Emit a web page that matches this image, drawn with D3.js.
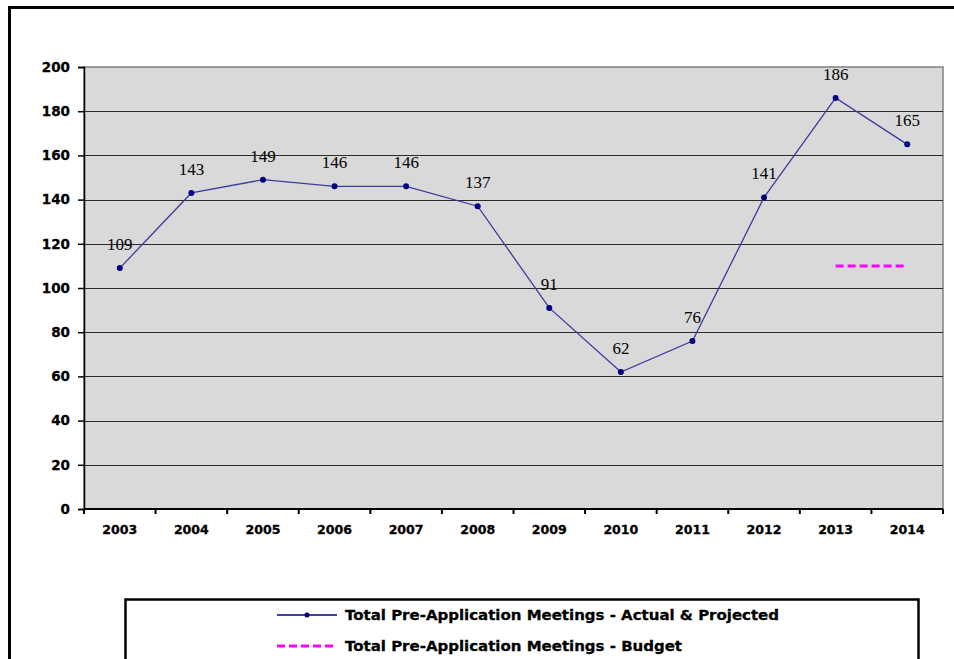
<!DOCTYPE html>
<html>
<head>
<meta charset="utf-8">
<script src="https://cdn.jsdelivr.net/npm/d3@7"></script>
<style>
  html, body { margin: 0; padding: 0; background: #fff; }
  svg { display: block; }
</style>
</head>
<body>
<svg id="chart" width="954" height="659"></svg>
<script>
// Years on the category axis
const years = ["2003", "2004", "2005", "2006", "2007", "2008", "2009", "2010", "2011", "2012", "2013", "2014"];
// Total pre-application meetings, actual & projected
const actual = [109, 143, 149, 146, 146, 137, 91, 62, 76, 141, 186, 165];
// Budget figure, only set for the last two years
const budgetYears = ["2013", "2014"];
const budget = [110, 110];
// Value axis ticks
const yTicks = [0, 20, 40, 60, 80, 100, 120, 140, 160, 180, 200];
const seriesNames = [
  "Total Pre-Application Meetings - Actual & Projected",
  "Total Pre-Application Meetings - Budget"
];

const svg = d3.select("#chart");
const plot = { left: 84, top: 67, right: 943, bottom: 509 };

const x = d3.scaleBand().domain(years).range([plot.left, plot.right]).padding(0);
const y = d3.scaleLinear().domain([0, 200]).range([plot.bottom, plot.top]);
const cx = d => x(d) + x.bandwidth() / 2;

const axisFont = "'DejaVu Sans', Verdana, sans-serif";

// Outer frame
svg.append("rect")
  .attr("x", 9.5).attr("y", 7.5)
  .attr("width", 980).attr("height", 720)
  .attr("fill", "none").attr("stroke", "#000").attr("stroke-width", 3);

// Plot background
svg.append("rect")
  .attr("x", plot.left).attr("y", plot.top)
  .attr("width", plot.right - plot.left).attr("height", plot.bottom - plot.top)
  .attr("fill", "#d9d9d9")
  .attr("stroke", "#808080").attr("stroke-width", 1.5);

// Horizontal gridlines
svg.append("g")
  .selectAll("line")
  .data(yTicks.filter(t => t > 0 && t < 200))
  .join("line")
  .attr("x1", plot.left).attr("x2", plot.right)
  .attr("y1", d => Math.round(y(d)) + 0.5).attr("y2", d => Math.round(y(d)) + 0.5)
  .attr("stroke", "#2a2a2a").attr("stroke-width", 1.1);

// Y axis
const yAxis = svg.append("g")
  .attr("transform", `translate(${plot.left},0)`)
  .call(d3.axisLeft(y).tickValues(yTicks).tickSize(6).tickPadding(8));
yAxis.select(".domain").attr("stroke", "#000").attr("stroke-width", 1.5);
yAxis.selectAll(".tick line").attr("stroke", "#000").attr("stroke-width", 1.5);
yAxis.selectAll("text")
  .attr("font-family", axisFont).attr("font-weight", "bold")
  .attr("font-size", 13.5).attr("fill", "#000")
  .attr("stroke", "#000").attr("stroke-width", 0.3);

// X axis: ticks sit on the category boundaries
const xAxisG = svg.append("g").attr("transform", `translate(0,${plot.bottom})`);
xAxisG.append("line")
  .attr("x1", plot.left).attr("x2", plot.right)
  .attr("y1", 0).attr("y2", 0)
  .attr("stroke", "#000").attr("stroke-width", 2);
const boundaries = years.map(d => x(d)).concat([plot.right]);
xAxisG.selectAll("line.tk")
  .data(boundaries)
  .join("line")
  .attr("class", "tk")
  .attr("x1", d => d).attr("x2", d => d)
  .attr("y1", 0).attr("y2", 5)
  .attr("stroke", "#000").attr("stroke-width", 2);
xAxisG.selectAll("text")
  .data(years)
  .join("text")
  .attr("x", d => cx(d))
  .attr("y", 25)
  .attr("text-anchor", "middle")
  .attr("font-family", axisFont).attr("font-weight", "bold")
  .attr("font-size", 13).attr("fill", "#000")
  .attr("stroke", "#000").attr("stroke-width", 0.3)
  .attr("textLength", 35).attr("lengthAdjust", "spacingAndGlyphs")
  .text(d => d);

// Actual & projected line
const lineGen = d3.line().x((d, i) => cx(years[i])).y(d => y(d));
svg.append("path")
  .datum(actual)
  .attr("d", lineGen)
  .attr("fill", "none")
  .attr("stroke", "#3c3c9c").attr("stroke-width", 1.3);

svg.append("g")
  .selectAll("circle")
  .data(actual)
  .join("circle")
  .attr("cx", (d, i) => cx(years[i]))
  .attr("cy", d => y(d))
  .attr("r", 3)
  .attr("fill", "#000080");

// Value labels
svg.append("g")
  .selectAll("text")
  .data(actual)
  .join("text")
  .attr("x", (d, i) => cx(years[i]))
  .attr("y", d => y(d) - 18)
  .attr("text-anchor", "middle")
  .attr("font-family", "'Liberation Serif', 'Times New Roman', serif")
  .attr("font-size", 17).attr("fill", "#000")
  .text(d => d);

// Budget line
const budgetLine = d3.line().x((d, i) => cx(budgetYears[i])).y(d => y(d));
svg.append("path")
  .datum(budget)
  .attr("d", budgetLine)
  .attr("fill", "none")
  .attr("stroke", "#ff00ff").attr("stroke-width", 3)
  .attr("stroke-dasharray", "8,4");

// Legend
const legend = svg.append("g");
legend.append("rect")
  .attr("x", 125.5).attr("y", 599.5)
  .attr("width", 793).attr("height", 120)
  .attr("fill", "#fff").attr("stroke", "#000").attr("stroke-width", 2.5);

const rows = [
  { name: seriesNames[0], y: 615, color: "#000080", dash: null, width: 1.5, marker: true, len: 434 },
  { name: seriesNames[1], y: 646, color: "#ff00ff", dash: "8,4", width: 3, marker: false, len: 337 }
];
rows.forEach(r => {
  legend.append("line")
    .attr("x1", 277).attr("x2", 337)
    .attr("y1", r.y).attr("y2", r.y)
    .attr("stroke", r.color).attr("stroke-width", r.width)
    .attr("stroke-dasharray", r.dash);
  if (r.marker) {
    legend.append("circle").attr("cx", 307).attr("cy", r.y).attr("r", 2.5).attr("fill", r.color);
  }
  legend.append("text")
    .attr("x", 345).attr("y", r.y + 5)
    .attr("font-family", axisFont).attr("font-weight", "bold")
    .attr("font-size", 14).attr("fill", "#000")
    .attr("stroke", "#000").attr("stroke-width", 0.3)
    .attr("textLength", r.len).attr("lengthAdjust", "spacingAndGlyphs")
    .text(r.name);
});
</script>
</body>
</html>
